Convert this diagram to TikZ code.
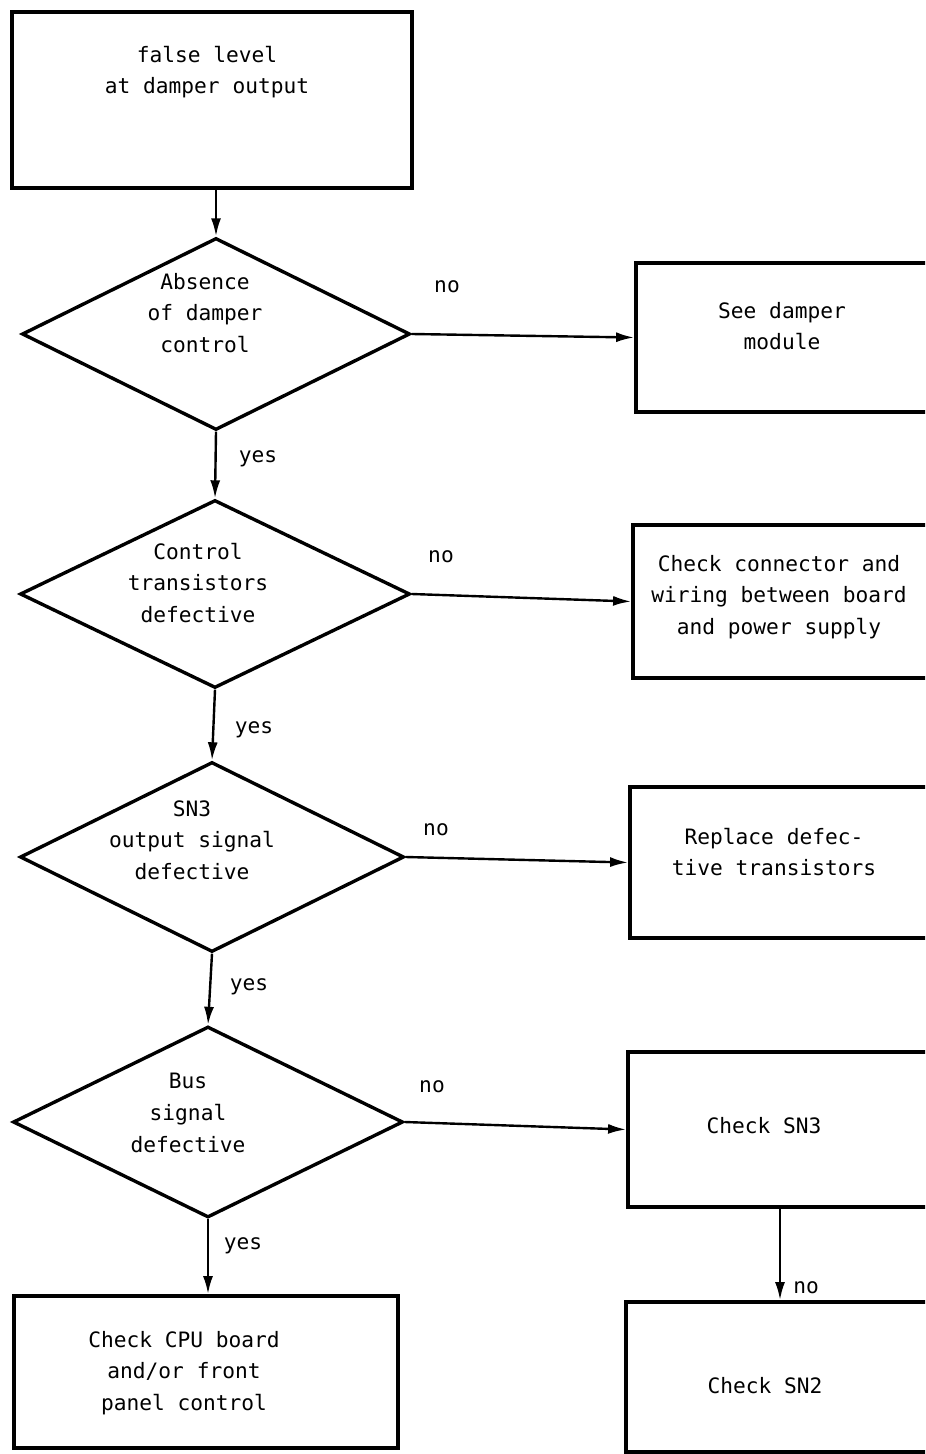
\documentclass[tikz,border=0pt]{standalone}
\usepackage{fontspec}
\setmonofont{DejaVu Sans Mono}
\usetikzlibrary{shapes.geometric,arrows.meta}
\begin{document}
\begin{tikzpicture}[x=0.5pt,y=-0.5pt,
  box/.style={draw, line width=1.9pt, rectangle, inner sep=0pt},
  dia/.style={draw, line width=1.7pt, diamond, inner sep=0pt},
  txt/.style={font=\ttfamily\fontsize{10.6}{15.8}\selectfont, align=center, inner sep=0pt},
  arr/.style={line width=1.2pt, -{Latex[length=9pt,width=5pt]}}]
\useasboundingbox (0,0) rectangle (925,1454);
\clip (0,0) rectangle (925,1454);
% left column
\node[box, minimum width=200pt, minimum height=88pt] (start) at (212,100) {};
\node[txt] (tstart) at (207,72) {false level\\at damper output};
\node[dia, minimum width=194pt, minimum height=96pt] (d1) at (216,334) {};
\node[txt] (td1) at (205,313) {Absence\\of damper\\control};
\node[dia, minimum width=195pt, minimum height=94pt] (d2) at (215,594) {};
\node[txt] (td2) at (198,583) {Control\\transistors\\defective};
\node[dia, minimum width=192pt, minimum height=95pt] (d3) at (212,857) {};
\node[txt] (td3) at (192,840) {SN3\\output signal\\defective};
\node[dia, minimum width=195pt, minimum height=95.5pt] (d4) at (208,1122) {};
\node[txt] (td4) at (188,1113) {Bus\\signal\\defective};
\node[box, minimum width=192pt, minimum height=76pt] (bl) at (206,1372) {};
\node[txt] (tbl) at (184,1373) {Check CPU board\\and/or front\\panel control};
% right column
\node[box, minimum width=162pt, minimum height=74.5pt] (b1) at (798,337.5) {};
\node[txt] (tb1) at (782,326) {See damper\\module};
\node[box, minimum width=163.5pt, minimum height=76.5pt] (b2) at (796.5,601.5) {};
\node[txt] (tb2) at (779,597) {Check connector and\\wiring between board\\and power supply};
\node[box, minimum width=165pt, minimum height=75.5pt] (b3) at (795,862.5) {};
\node[txt] (tb3) at (774,852) {Replace defec-\\tive transistors};
\node[box, minimum width=166pt, minimum height=77.5pt] (b4) at (794,1129.5) {};
\node[txt] (tb4) at (764,1126) {Check SN3};
\node[box, minimum width=167pt, minimum height=75pt] (b5) at (793,1377) {};
\node[txt] (tb5) at (765,1386) {Check SN2};
\coordinate (c45) at (780,1250);
% connectors
\draw[arr] (start.south -| d1.north) -- (d1.north);
\draw[arr] (d1.south) -- (d2.north);
\draw[arr] (d2.south) -- (d3.north);
\draw[arr] (d3.south) -- (d4.north);
\draw[arr] (d4.south) -- (bl.north -| d4.south);
\draw[arr] (d1.east) -- (b1.west);
\draw[arr] (d2.east) -- (b2.west);
\draw[arr] (d3.east) -- (b3.west);
\draw[arr] (d4.east) -- (b4.west);
\draw[arr] (b4.south -| c45) -- (b5.north -| c45);
% labels
\node[txt] (n1) at (447,287) {no};
\node[txt] (n2) at (441,557) {no};
\node[txt] (n3) at (436,830) {no};
\node[txt] (n4) at (432,1087) {no};
\node[txt] (n5) at (806,1288) {no};
\node[txt] (y1) at (258,459) {yes};
\node[txt] (y2) at (254,730) {yes};
\node[txt] (y3) at (249,987) {yes};
\node[txt] (y4) at (243,1246) {yes};
\end{tikzpicture}
\end{document}
